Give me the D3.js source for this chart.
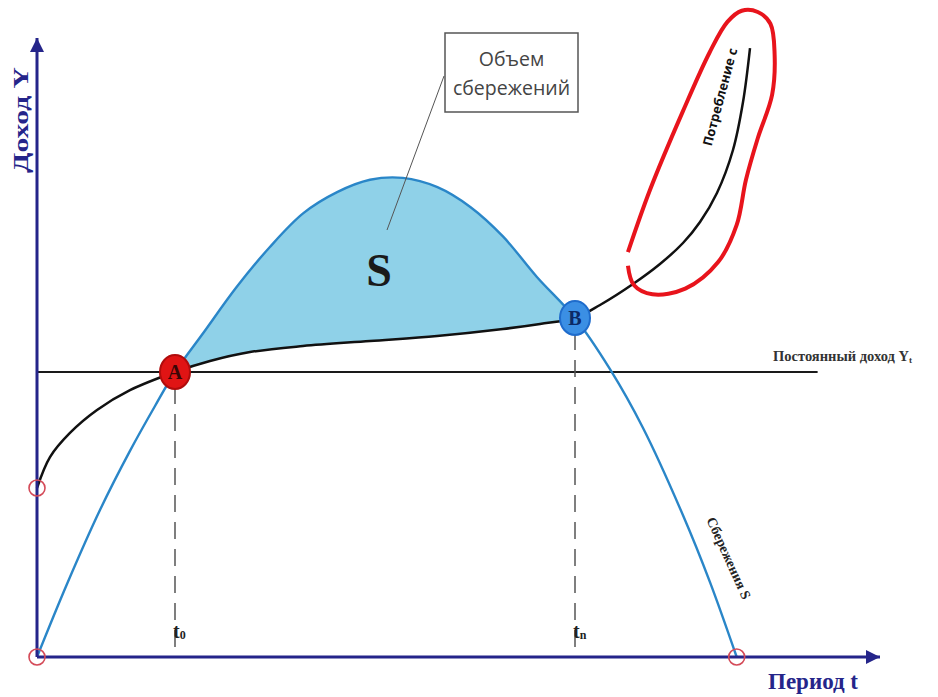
<!DOCTYPE html>
<html>
<head>
<meta charset="utf-8">
<script src="https://cdn.jsdelivr.net/npm/d3@7"></script>
<style>
  body { margin: 0; background: #fff; }
  svg { display: block; }
</style>
</head>
<body>
<script>
// values: period t (0..100) and income Y (0..100)
const savingsT = [0, 3.56, 7.47, 11.03, 14.0, 16.37, 19.7, 23.7, 27.6, 31.6, 35.6, 39.5, 43.4, 47.5, 51.4, 55.3, 59.3, 63.82, 67.97, 71.89, 76.63, 79.83, 83.0];
const savingsY = [0, 11.8, 23.75, 33.3, 40.55, 46.04, 52.3, 59.8, 66.2, 71.7, 75.1, 77.1, 77.4, 75.9, 72.7, 67.9, 61.4, 54.77, 46.5, 37.0, 22.9, 12.1, 0];

const consumptionT = [0, 1.54, 3.91, 7.12, 11.03, 16.37, 20.52, 25.27, 31.55, 39.5, 47.45, 55.28, 59.67, 63.82, 66.79, 70.7, 73.9, 76.63, 78.65, 80.66, 82.56, 83.75, 84.58];
const consumptionY = [27.3, 32.3, 36.2, 39.9, 43.1, 46.04, 47.82, 49.27, 50.24, 51.05, 51.86, 52.99, 53.8, 54.77, 56.87, 60.26, 63.49, 66.88, 70.27, 74.96, 81.91, 89.66, 98.38];

const permanentIncome = 46.04;
const permanentEndT = 92.6;

const crossNames = ["A", "B"];
const crossT = [16.37, 63.82];
const crossY = [46.04, 54.77];
const periodSubs = ["0", "n"];

const openMarkT = [0, 0, 83.0];
const openMarkY = [27.3, 0, 0];

// hand-drawn red loop round the consumption label
const loopT = [70.1, 72.7, 76.6, 79.8, 81.9, 83.6, 85.5, 87.0, 87.5, 87.2, 85.5, 84.1, 83.0, 80.8, 76.9, 73.0, 70.8, 70.1];
const loopY = [65.4, 75.4, 88.1, 97.7, 102.6, 104.4, 104.2, 102.3, 97.3, 90.8, 83.8, 77.1, 69.8, 63.8, 59.5, 58.6, 60.1, 63.2];

const navy = "#25258a";

class SavingsChart {
    constructor(width, height) {
        this.width = width;
        this.height = height;
        this.x = d3.scaleLinear().domain([0, 100]).range([37, 880]);
        this.y = d3.scaleLinear().domain([0, 100]).range([657, 38]);
        this.curve = d3.curveCatmullRom.alpha(0.5);
        this.svg = d3.select("body").append("svg")
            .attr("width", width)
            .attr("height", height);
        this.line = d3.line()
            .x(d => this.x(d[0]))
            .y(d => this.y(d[1]))
            .curve(this.curve);
    }

    draw() {
        const x = this.x, y = this.y, svg = this.svg;
        const savings = savingsT.map((t, i) => [t, savingsY[i]]);
        const consumption = consumptionT.map((t, i) => [t, consumptionY[i]]);

        const defs = svg.append("defs");
        defs.append("marker")
            .attr("id", "arrow")
            .attr("viewBox", "0 0 14 14")
            .attr("refX", 14).attr("refY", 7)
            .attr("markerWidth", 14).attr("markerHeight", 14)
            .attr("markerUnits", "userSpaceOnUse")
            .attr("orient", "auto")
            .append("path")
            .attr("d", "M0,0L14,7L0,14Z")
            .attr("fill", navy);

        // region above consumption, used to cut the savings area
        defs.append("clipPath").attr("id", "aboveC")
            .append("path")
            .attr("d", d3.area()
                .x(d => x(d[0]))
                .y0(d => y(d[1]))
                .y1(0)
                .curve(this.curve)(consumption));

        svg.append("path")
            .attr("clip-path", "url(#aboveC)")
            .attr("d", d3.area()
                .x(d => x(d[0]))
                .y0(y(0))
                .y1(d => y(d[1]))
                .curve(this.curve)(savings))
            .attr("fill", "#8fd1e8");

        // permanent income line
        svg.append("line")
            .attr("x1", x(0)).attr("x2", x(permanentEndT))
            .attr("y1", y(permanentIncome)).attr("y2", y(permanentIncome))
            .attr("stroke", "#1a1a1a").attr("stroke-width", 2.2);

        svg.append("text")
            .attr("x", 773).attr("y", 361)
            .attr("font-family", "Liberation Serif").attr("font-weight", "bold")
            .attr("font-size", 14.5).attr("fill", "#333")
            .text("Постоянный доход Y")
            .append("tspan").attr("font-size", 9).attr("dy", 2).text("t");

        // dashed drops from A and B
        svg.selectAll(".drop").data(crossT).enter().append("line")
            .attr("class", "drop")
            .attr("x1", d => x(d)).attr("x2", d => x(d))
            .attr("y1", (d, i) => y(crossY[i]) + 15).attr("y2", y(0))
            .attr("stroke", "#555").attr("stroke-width", 1.5)
            .attr("stroke-dasharray", "17,10");

        const tl = svg.selectAll(".tlab").data(crossT).enter().append("text")
            .attr("class", "tlab")
            .attr("x", d => x(d) - 2).attr("y", 638)
            .attr("font-family", "Liberation Serif").attr("font-weight", "bold")
            .attr("font-size", 20).attr("fill", "#222")
            .text("t");
        tl.append("tspan").attr("font-size", 12).attr("dy", 1).text((d, i) => periodSubs[i]);

        // curves
        svg.append("path").attr("d", this.line(consumption))
            .attr("fill", "none").attr("stroke", "#111").attr("stroke-width", 2.5);
        svg.append("path").attr("d", this.line(savings))
            .attr("fill", "none").attr("stroke", "#2a86c8").attr("stroke-width", 2.4);

        svg.append("path")
            .attr("d", this.line(loopT.map((t, i) => [t, loopY[i]])))
            .attr("fill", "none").attr("stroke", "#e8141c").attr("stroke-width", 4);

        // axes
        svg.append("path")
            .attr("d", d3.line().x(d => x(d[0])).y(d => y(d[1]))([[0, 0], [0, 100]]))
            .attr("stroke", navy).attr("stroke-width", 3).attr("marker-end", "url(#arrow)");
        svg.append("path")
            .attr("d", d3.line().x(d => x(d[0])).y(d => y(d[1]))([[0, 0], [100, 0]]))
            .attr("stroke", navy).attr("stroke-width", 3).attr("marker-end", "url(#arrow)");

        svg.append("text")
            .attr("transform", "translate(28,120) rotate(-90)")
            .attr("text-anchor", "middle")
            .attr("font-family", "Liberation Serif").attr("font-weight", "bold")
            .attr("font-size", 22).attr("fill", navy)
            .attr("textLength", 106).attr("lengthAdjust", "spacingAndGlyphs")
            .text("Доход Y");
        svg.append("text")
            .attr("x", 768).attr("y", 689)
            .attr("font-family", "Liberation Serif").attr("font-weight", "bold")
            .attr("font-size", 23).attr("fill", navy)
            .text("Период t");

        // open red markers
        svg.selectAll(".open").data(openMarkT).enter().append("circle")
            .attr("class", "open")
            .attr("cx", d => x(d)).attr("cy", (d, i) => y(openMarkY[i]))
            .attr("r", 8)
            .attr("fill", "none").attr("stroke", "#d44a58").attr("stroke-width", 1.6);

        // crossing points
        const pts = svg.selectAll(".cross").data(crossNames).enter().append("g")
            .attr("class", "cross")
            .attr("transform", (d, i) => `translate(${x(crossT[i])},${y(crossY[i])})`);
        pts.append("ellipse")
            .attr("rx", 15).attr("ry", 17)
            .attr("fill", d => d === "A" ? "#e01414" : "#3b8fe4")
            .attr("stroke", d => d === "A" ? "#b00c0c" : "#1f6ccc")
            .attr("stroke-width", 2);
        pts.append("text")
            .attr("text-anchor", "middle").attr("dy", "0.35em")
            .attr("font-family", "Liberation Serif").attr("font-weight", "bold")
            .attr("font-size", 20)
            .attr("fill", d => d === "A" ? "#3a0606" : "#0c2a66")
            .text(d => d);

        // curve labels
        svg.append("text")
            .attr("transform", "translate(720,97) rotate(-75)")
            .attr("text-anchor", "middle").attr("dy", "0.35em")
            .attr("font-family", "Open Sans").attr("font-weight", "bold")
            .attr("font-size", 13).attr("fill", "#111")
            .text("Потребление с");
        svg.append("text")
            .attr("transform", "translate(729,558) rotate(65.6)")
            .attr("text-anchor", "middle").attr("dy", "0.35em")
            .attr("font-family", "Liberation Serif").attr("font-weight", "bold")
            .attr("font-size", 14).attr("fill", "#222")
            .text("Сбережения S");

        svg.append("text")
            .attr("x", 379).attr("y", 286)
            .attr("text-anchor", "middle")
            .attr("font-family", "Liberation Serif").attr("font-weight", "bold")
            .attr("font-size", 46).attr("fill", "#1a1a1a")
            .text("S");

        // callout
        svg.append("line")
            .attr("x1", 444).attr("y1", 76).attr("x2", 387).attr("y2", 230)
            .attr("stroke", "#555").attr("stroke-width", 1);
        svg.append("rect")
            .attr("x", 445).attr("y", 33).attr("width", 133).attr("height", 79)
            .attr("fill", "#fff").attr("stroke", "#555").attr("stroke-width", 1.5);
        svg.selectAll(".callout").data(["Объем", "сбережений"]).enter().append("text")
            .attr("class", "callout")
            .attr("x", 511.5).attr("y", (d, i) => 66 + i * 29)
            .attr("text-anchor", "middle")
            .attr("font-family", "Open Sans").attr("font-size", 19.5).attr("fill", "#444")
            .text(d => d);
    }
}

const chart = new SavingsChart(938, 697);
chart.draw();
</script>
</body>
</html>
